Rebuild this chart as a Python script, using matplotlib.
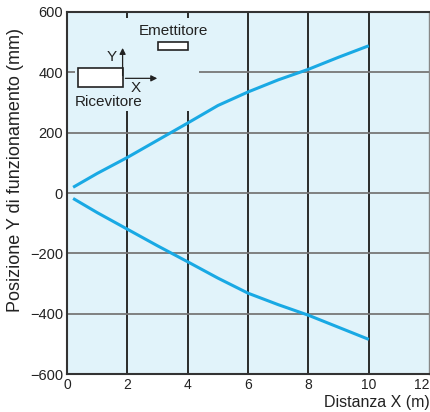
import matplotlib.pyplot as plt
from matplotlib.patches import Rectangle

# Curve data (distance X in m, position Y in mm)
x_upper = [0.2, 1, 2, 3, 4, 5, 6, 7, 8, 9, 10]
y_upper = [19, 65, 118, 175, 232, 290, 335, 375, 410, 450, 488]
x_lower = [0.2, 1, 2, 3, 4, 5, 6, 7, 8, 9, 10]
y_lower = [-18, -65, -120, -175, -228, -282, -332, -370, -405, -445, -485]

x_ticks = [0, 2, 4, 6, 8, 10, 12]
y_ticks = [-600, -400, -200, 0, 200, 400, 600]
y_labels = ["\u2212600", "\u2212400", "\u2212200", "0", "200", "400", "600"]

bg = "#E1F3FA"
line_color = "#19A9E4"
ink = "#222222"

plt.rcParams['font.family'] = ['Liberation Sans', 'DejaVu Sans']

fig = plt.figure(figsize=(4.30, 4.12), dpi=100)
ax = fig.add_axes([0.156, 0.092, 0.842, 0.879])
ax.set_facecolor(bg)
ax.set_xlim(0, 12)
ax.set_ylim(-600, 600)

# grid: vertical lines black, horizontal lines grey
for xv in x_ticks[1:-1]:
    ax.axvline(xv, color="#1a1a1a", lw=1.3, zorder=1)
for yv in y_ticks[1:-1]:
    ax.axhline(yv, color="#777777", lw=1.3, zorder=1)

# clear zone behind the sensor sketch
ax.add_patch(Rectangle((0.27, 273), 4.1, 307, facecolor=bg, edgecolor="none", zorder=2))

ax.plot(x_upper, y_upper, color=line_color, lw=2.2, zorder=3, solid_capstyle="butt")
ax.plot(x_lower, y_lower, color=line_color, lw=2.2, zorder=3, solid_capstyle="butt")

# sensor sketch
ax.add_patch(Rectangle((0.36, 350), 1.48, 63, facecolor="white", edgecolor=ink, lw=1.2, zorder=4))
ax.add_patch(Rectangle((3.01, 473), 0.99, 27, facecolor="white", edgecolor=ink, lw=1.2, zorder=4))
ax.annotate("", xy=(3.08, 380), xytext=(1.84, 380),
            arrowprops=dict(arrowstyle="-|>", color=ink, lw=0.9, mutation_scale=9), zorder=4)
ax.annotate("", xy=(1.84, 490), xytext=(1.84, 380),
            arrowprops=dict(arrowstyle="-|>", color=ink, lw=0.9, mutation_scale=9), zorder=4)
ax.text(1.49, 452, "Y", fontsize=11, color=ink, ha="center", va="center", zorder=4)
ax.text(2.28, 347, "X", fontsize=11, color=ink, ha="center", va="center", zorder=4)
ax.text(0.27, 300, "Ricevitore", fontsize=11, color=ink, ha="left", va="center", zorder=4)
ax.text(2.38, 537, "Emettitore", fontsize=11, color=ink, ha="left", va="center", zorder=4)

ax.set_xticks(x_ticks)
ax.set_yticks(y_ticks)
ax.set_yticklabels(y_labels)
ax.tick_params(length=0, labelsize=10.5, colors=ink, pad=3)
ax.tick_params(axis="x", labelsize=10, pad=3)
ax.get_xticklabels()[-1].set_horizontalalignment("right")

for side in ["left", "bottom", "top"]:
    ax.spines[side].set_color("#333333")
    ax.spines[side].set_linewidth(1.5)
ax.spines["right"].set_color("#888888")
ax.spines["right"].set_linewidth(1.0)

fig.text(0.035, 0.587, "Posizione Y di funzionamento (mm)", fontsize=13, color=ink,
         rotation=90, ha="center", va="center")
fig.text(0.999, 0.005, "Distanza X (m)", fontsize=11.5, color=ink, ha="right", va="bottom")

fig.savefig("out.png", dpi=100)
